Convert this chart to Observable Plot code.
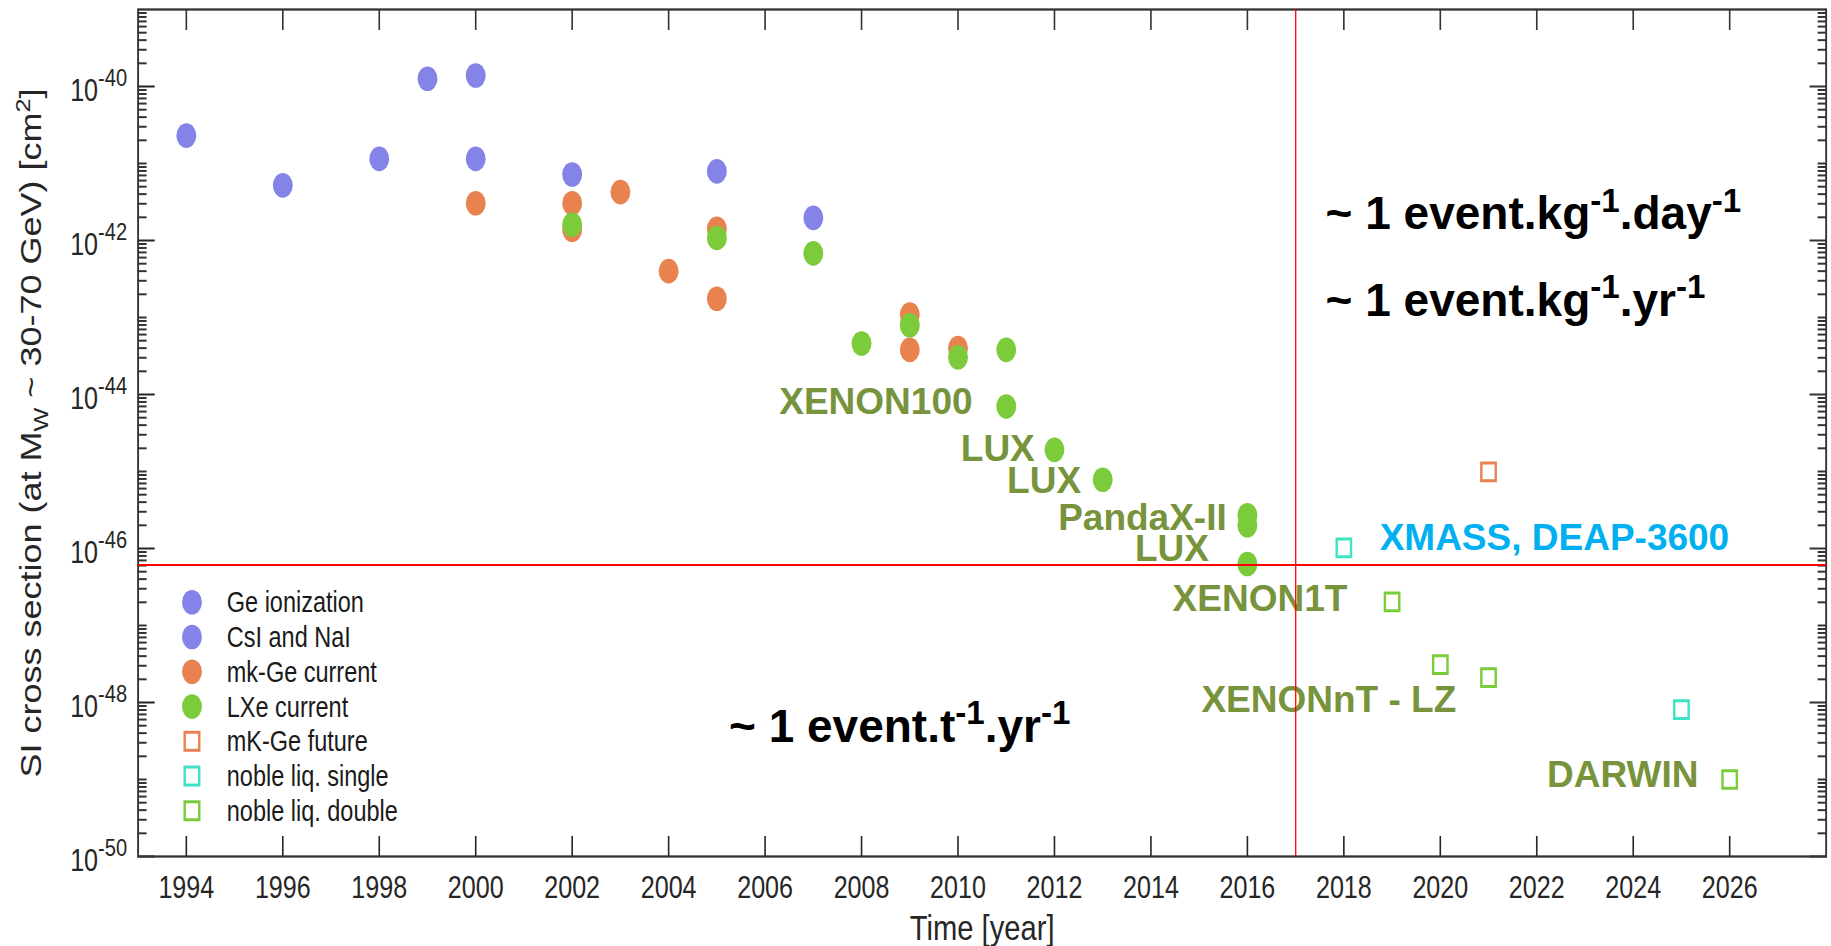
<!DOCTYPE html>
<html><head><meta charset="utf-8">
<script src="https://cdn.jsdelivr.net/npm/d3@7"></script>
<script src="https://cdn.jsdelivr.net/npm/@observablehq/plot@0.6"></script>
<style>
html,body{margin:0;padding:0;background:#fff;overflow:hidden}
#wrap{position:relative;width:1831px;height:946px;overflow:hidden;background:#fff}
#base{position:absolute;left:0;top:0;width:2260px;height:946px;transform:scaleX(0.81);transform-origin:0 0}
#overlay{position:absolute;left:0;top:0;width:1831px;height:946px}
</style></head>
<body><div id="wrap"><div id="base"></div><div id="overlay"></div></div>
<script>
// ---------------- data ----------------
const xTicks = [1994,1996,1998,2000,2002,2004,2006,2008,2010,2012,2014,2016,2018,2020,2022,2024,2026];
const yMajorExponents = [-50,-48,-46,-44,-42,-40];

const geYears = [1994, 1996, 1998, 2000, 2002, 2005, 2007];
const geSigma = [2.3e-41, 5.2e-42, 1.15e-41, 1.15e-41, 7.2e-42, 7.9e-42, 1.97e-42];
const csiYears = [1999, 2000];
const csiSigma = [1.26e-40, 1.39e-40];
const mkGeYears = [2000, 2002, 2002, 2003, 2004, 2005, 2005, 2009, 2009, 2010];
const mkGeSigma = [3.05e-42, 3.05e-42, 1.38e-42, 4.25e-42, 4.0e-43, 1.42e-42, 1.75e-43, 1.09e-43, 3.8e-44, 4.0e-44];
const lxeYears = [2002, 2005, 2007, 2008, 2009, 2010, 2011, 2011, 2012, 2013, 2016, 2016, 2016];
const lxeSigma = [1.6e-42, 1.08e-42, 6.8e-43, 4.6e-44, 7.9e-44, 3.05e-44, 3.8e-44, 7.0e-45, 1.91e-45, 7.8e-46, 2.7e-46, 2.0e-46, 6.3e-47];
const mkGeFutureYears = [2021];
const mkGeFutureSigma = [9.9e-46];
const nobleSingleYears = [2018, 2025];
const nobleSingleSigma = [1.02e-46, 8.1e-49];
const nobleDoubleYears = [2019, 2020, 2021, 2026];
const nobleDoubleSigma = [2.03e-47, 3.1e-48, 2.1e-48, 1.0e-49];

const expLabels = ["XENON100","LUX","LUX","PandaX-II","LUX","XENON1T","XENONnT - LZ","DARWIN"];
const expLabelYear = [2010.30, 2011.59, 2012.55, 2015.57, 2015.20, 2018.07, 2020.33, 2025.35];
const expLabelSigma = [7.9e-45, 1.97e-45, 7.6e-46, 2.5e-46, 9.8e-47, 2.2e-47, 1.06e-48, 1.13e-49];
const cyanLabels = ["XMASS, DEAP-3600"];
const cyanLabelYear = [2018.74];
const cyanLabelSigma = [1.36e-46];
const eventLabels = ["~ 1 event.kg^{-1}.day^{-1}", "~ 1 event.kg^{-1}.yr^{-1}", "~ 1 event.t^{-1}.yr^{-1}"];
const eventYear = [2017.62, 2017.62, 2005.25];
const eventSigma = [1.39e-42, 1.05e-43, 3.1e-49];

const thresholdYear = [2017];
const thresholdSigma = [6.1e-47];

const legendLabels = ["Ge ionization","CsI and NaI","mk-Ge current","LXe current","mK-Ge future","noble liq. single","noble liq. double"];
const xLabel = "Time [year]";
const yLabel = "SI cross section (at M_{W} ~ 30-70 GeV) [cm^{2}]";

// ---------------- style ----------------
const BLUE = "#8383E8", ORANGE = "#E8834F", GREEN = "#7BCB3B", CYAN_SQ = "#3FE3C3";
const OLIVE = "#77933C", CYAN_TXT = "#00B0F0";
const TEXT = "#262626", AXIS = "#333333";
const FONT = '"Liberation Sans", Arial, Helvetica, sans-serif';
const SX = 0.81;
const W0 = 2260, H = 946, mL0 = 170, mR0 = 6, mT = 9, mB = 90;

const rows = (xs, ys) => xs.map((x, i) => ({x, y: ys[i]}));
const labelRows = (ls, xs, ys) => ls.map((label, i) => ({label, x: xs[i], y: ys[i]}));

const yMajor = yMajorExponents.map(e => Math.pow(10, e));
const yMinor = [];
for (let n = -50; n <= -40; n++) {
  for (let k = 2; k <= 9; k++) yMinor.push(k * Math.pow(10, n));
  if (n % 2 !== 0) yMinor.push(Math.pow(10, n));
}

const xDomain = [1993, 2028], yDomain = [1e-50, 1e-39];

const base = Plot.plot({
  width: W0, height: H, marginLeft: mL0, marginRight: mR0, marginTop: mT, marginBottom: mB,
  style: {fontFamily: FONT, background: "transparent", overflow: "visible"},
  x: {domain: xDomain},
  y: {type: "log", domain: yDomain},
  marks: [
    Plot.dot(rows(geYears, geSigma), {x: "x", y: "y", r: 12.3, fill: BLUE}),
    Plot.dot(rows(csiYears, csiSigma), {x: "x", y: "y", r: 12.3, fill: BLUE}),
    Plot.dot(rows(mkGeYears, mkGeSigma), {x: "x", y: "y", r: 12.3, fill: ORANGE}),
    Plot.dot(rows(lxeYears, lxeSigma), {x: "x", y: "y", r: 12.3, fill: GREEN}),
    Plot.dot(rows(mkGeFutureYears, mkGeFutureSigma), {x: "x", y: "y", r: 10, symbol: "square", fill: "none", stroke: ORANGE, strokeWidth: 3}),
    Plot.dot(rows(nobleSingleYears, nobleSingleSigma), {x: "x", y: "y", r: 10, symbol: "square", fill: "none", stroke: CYAN_SQ, strokeWidth: 3}),
    Plot.dot(rows(nobleDoubleYears, nobleDoubleSigma), {x: "x", y: "y", r: 10, symbol: "square", fill: "none", stroke: GREEN, strokeWidth: 3}),
    Plot.axisX({ticks: xTicks, anchor: "bottom", tickSize: -20, tickPadding: 39, tickFormat: d => String(d), fontSize: 31, color: TEXT, strokeWidth: 2, label: null}),
    Plot.axisX({ticks: xTicks, anchor: "top", tickSize: -20, tickFormat: () => "", color: AXIS, strokeWidth: 2, label: null}),
    Plot.axisY({ticks: yMajor, anchor: "left", tickSize: -21, tickPadding: 34.6, tickFormat: d => `10^{${Math.round(Math.log10(d))}}`, fontSize: 31, color: TEXT, strokeWidth: 2, label: null}),
    Plot.axisY({ticks: yMinor, anchor: "left", tickSize: -11, tickFormat: () => "", color: AXIS, strokeWidth: 2, label: null}),
    Plot.axisY({ticks: yMajor, anchor: "right", tickSize: -21, tickFormat: () => "", color: AXIS, strokeWidth: 2, label: null}),
    Plot.axisY({ticks: yMinor, anchor: "right", tickSize: -11, tickFormat: () => "", color: AXIS, strokeWidth: 2, label: null}),
    Plot.frame({stroke: AXIS, strokeWidth: 2.3}),
    Plot.text([yLabel], {text: d => d, frameAnchor: "left", textAnchor: "middle", dx: -131, rotate: -90, fontSize: 36, fill: TEXT}),
    Plot.text([xLabel], {text: d => d, frameAnchor: "bottom", textAnchor: "middle", dy: 83, lineAnchor: "bottom", fontSize: 36, fill: TEXT})
  ]
});

const overlay = Plot.plot({
  width: 1831, height: H,
  marginLeft: mL0 * SX, marginRight: 1831 - (W0 - mR0) * SX, marginTop: mT, marginBottom: mB,
  style: {fontFamily: FONT, background: "transparent", overflow: "visible"},
  x: {domain: xDomain, axis: null},
  y: {type: "log", domain: yDomain, axis: null},
  marks: [
    Plot.text(labelRows(expLabels, expLabelYear, expLabelSigma), {x: "x", y: "y", text: "label", textAnchor: "end", fontSize: 37, fontWeight: "bold", fill: OLIVE}),
    Plot.text(labelRows(cyanLabels, cyanLabelYear, cyanLabelSigma), {x: "x", y: "y", text: "label", textAnchor: "start", fontSize: 37, fontWeight: "bold", fill: CYAN_TXT}),
    Plot.text(labelRows(eventLabels, eventYear, eventSigma), {x: "x", y: "y", text: "label", textAnchor: "start", lineAnchor: "bottom", fontSize: 46, fontWeight: "bold", fill: "#000"}),
    Plot.ruleX(thresholdYear, {stroke: "#FF0000", strokeWidth: 1.3}),
    Plot.ruleY(thresholdSigma, {stroke: "#FF0000", strokeWidth: 2})
  ]
});

document.getElementById("base").appendChild(base);
document.getElementById("overlay").appendChild(overlay);

// legend (inside the base, squeezed like the figure)
const legendShapes = ["circle","circle","circle","circle","square","square","square"];
const legendColors = [BLUE, BLUE, ORANGE, GREEN, ORANGE, CYAN_SQ, GREEN];
const lg = d3.select(base).append("g").attr("aria-label", "legend")
  .attr("font-family", FONT).attr("text-anchor", "start");
legendLabels.forEach((label, i) => {
  const cy = 602.3 + i * 34.75;
  if (legendShapes[i] === "circle") {
    lg.append("circle").attr("cx", 237).attr("cy", cy).attr("r", 12.3).attr("fill", legendColors[i]);
  } else {
    lg.append("rect").attr("x", 228).attr("y", cy - 9).attr("width", 18).attr("height", 18)
      .attr("fill", "none").attr("stroke", legendColors[i]).attr("stroke-width", 3);
  }
  lg.append("text").attr("x", 280).attr("y", cy).attr("dy", "0.35em").attr("font-size", 29)
    .attr("text-anchor", "start").attr("fill", "#1a1a1a").text(label);
});

// rich text: ^{..} superscript, _{..} subscript
const NS = "http://www.w3.org/2000/svg";
function rich(el, supScale, supRise, subDrop) {
  const s = el.textContent;
  if (!/[\^_]\{/.test(s)) return;
  const fs = parseFloat(getComputedStyle(el).fontSize);
  el.textContent = "";
  let shift = 0;
  for (const p of s.split(/([\^_]\{[^}]*\})/)) {
    if (!p) continue;
    const m = p.match(/^([\^_])\{([^}]*)\}$/);
    const t = document.createElementNS(NS, "tspan");
    if (m) {
      const target = m[1] === "^" ? -supRise * fs : subDrop * fs;
      t.setAttribute("dy", target - shift); shift = target;
      t.setAttribute("font-size", supScale * fs);
      t.textContent = m[2];
    } else {
      t.setAttribute("dy", -shift); shift = 0;
      t.textContent = p;
    }
    el.appendChild(t);
  }
}
d3.select(base).selectAll('g[aria-label="y-axis tick label"] text').each(function () {
  this.setAttribute("y", "0.47em");
  rich(this, 0.8, 0.5, 0.2);
});
d3.select(base).selectAll("text").each(function () { rich(this, 0.7, 0.4, 0.22); });
d3.select(overlay).selectAll("text").each(function () { rich(this, 0.72, 0.38, 0.2); });
</script>
</body></html>
